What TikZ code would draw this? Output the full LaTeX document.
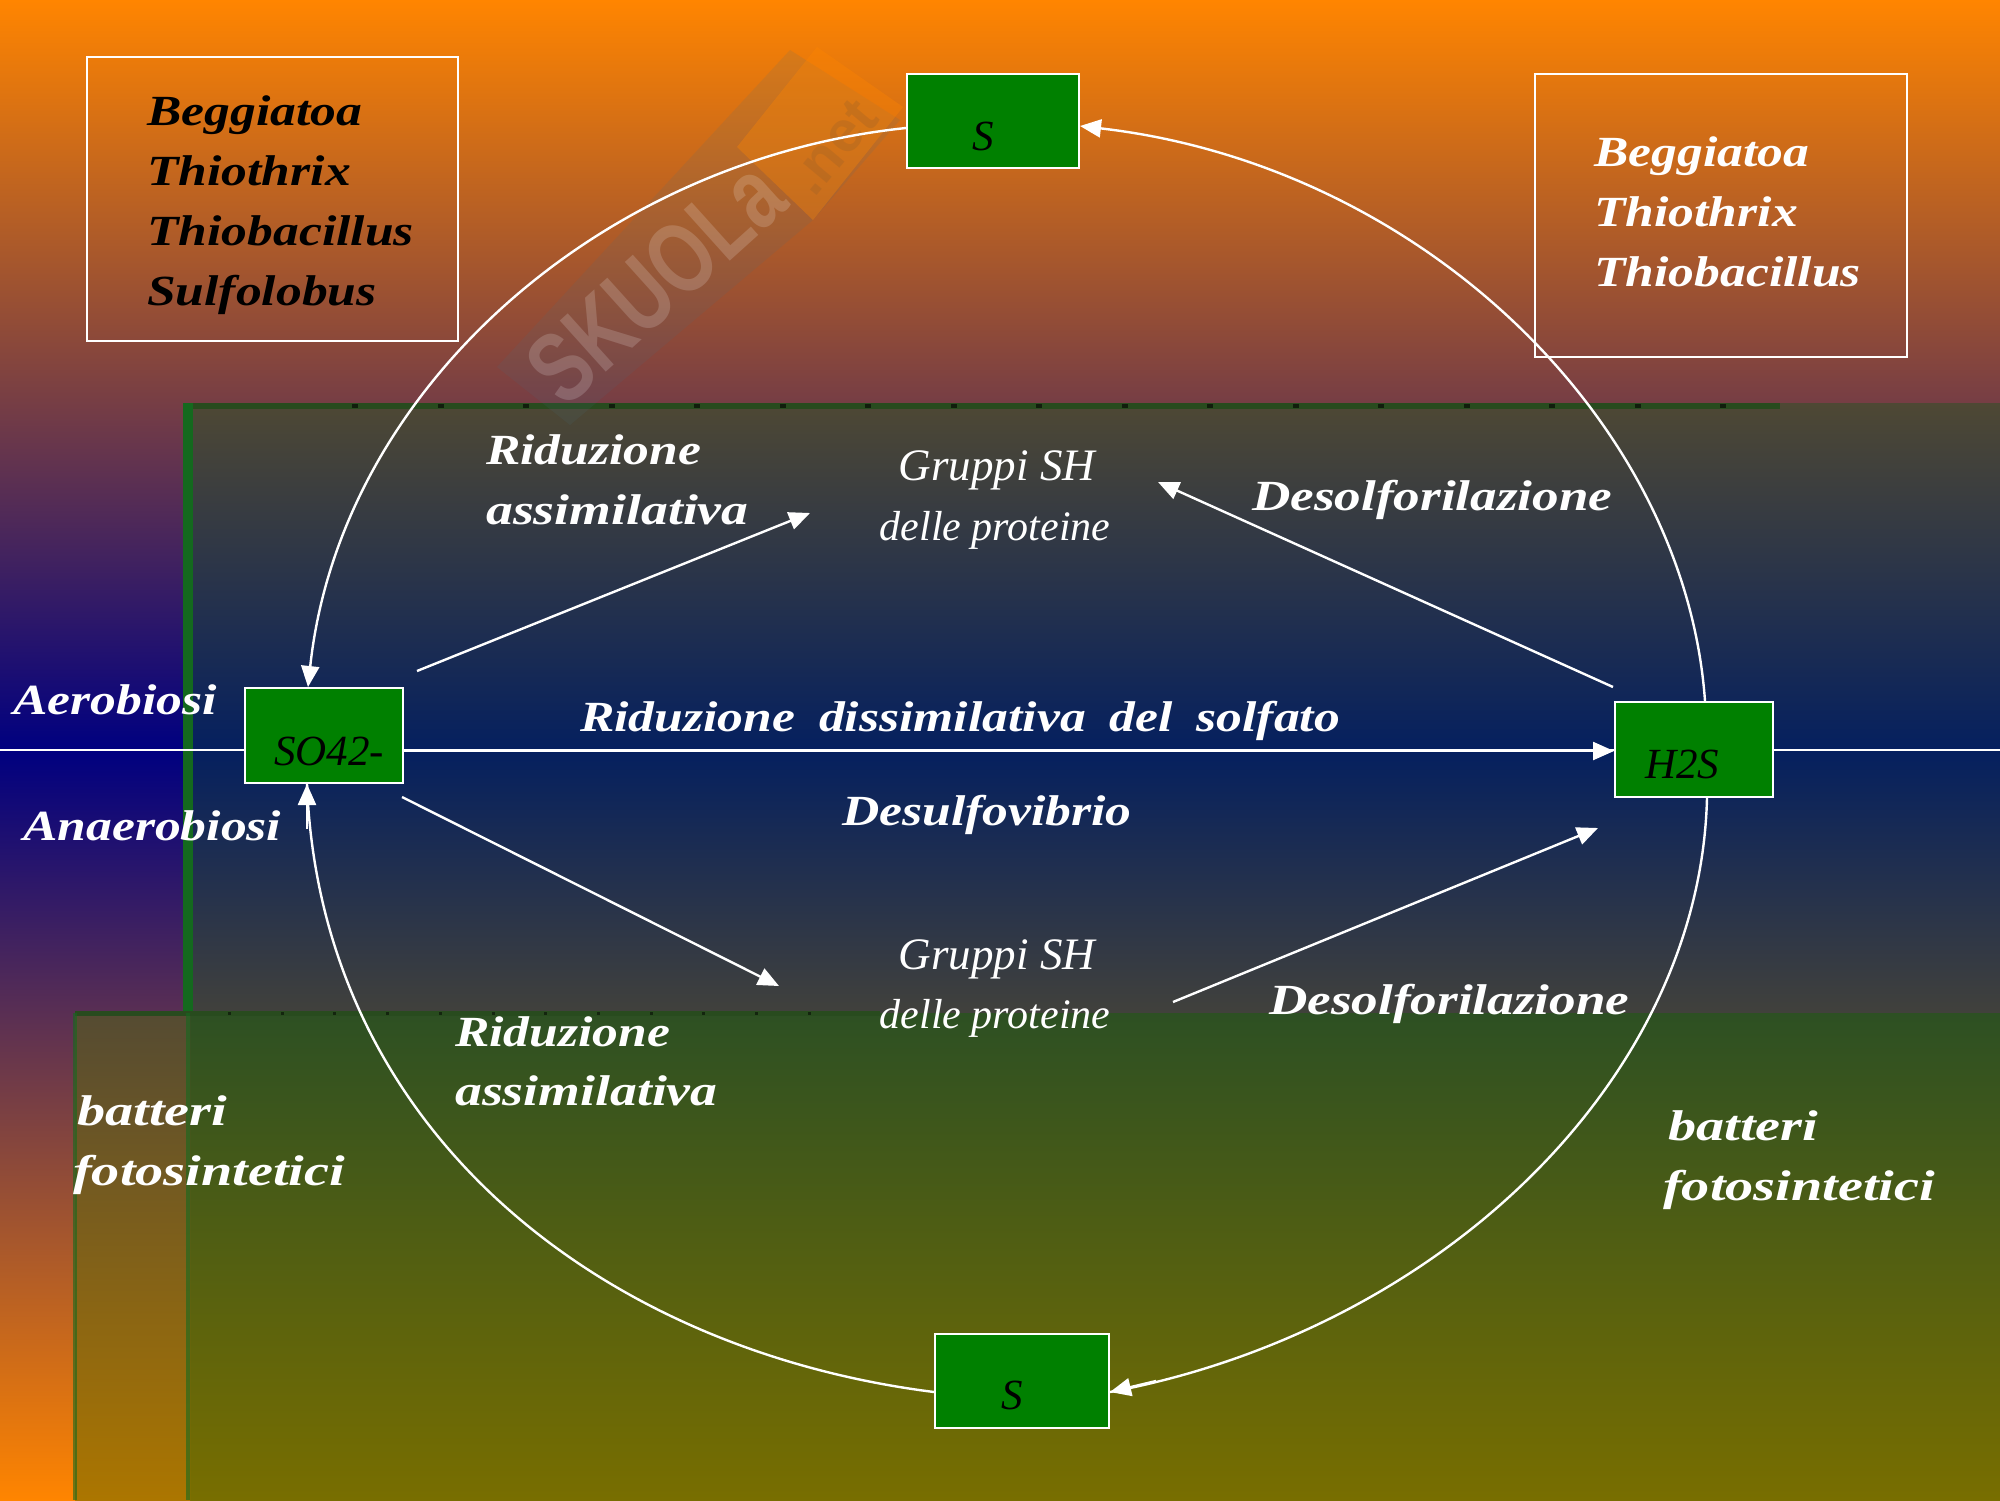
\documentclass[tikz,border=0pt]{standalone}
\usepackage{fontspec}
\usetikzlibrary{arrows.meta,positioning}
\setmainfont{Liberation Serif}
\newfontfamily\widefont[FakeStretch=1.2]{Liberation Serif}
\newfontfamily\markfont{Liberation Sans}
\definecolor{boxgreen}{RGB}{0,128,0}
\definecolor{stripgreen}{RGB}{20,105,30}
\definecolor{darkstrip}{RGB}{40,75,30}
\definecolor{topbg}{RGB}{255,133,0}
\definecolor{midbg}{RGB}{0,0,128}
\definecolor{markblue}{RGB}{70,110,130}
\tikzset{
  greenbox/.style={draw=white,line width=2pt,fill=boxgreen,inner sep=0pt,anchor=north west},
  framebox/.style={draw=white,line width=2pt,inner sep=0pt,anchor=north west},
  flow/.style={draw=white,line width=2.4pt,-{Triangle[length=21pt,width=18pt]}},
  bigtext/.style={text=white,anchor=base west,inner sep=0pt,font=\fontsize{43}{60}\widefont\bfseries\itshape},
  plaintext/.style={text=white,anchor=base,inner sep=0pt,font=\fontsize{45}{60}\selectfont\itshape},
  smalltext/.style={plaintext,font=\fontsize{42}{60}\selectfont\itshape},
  boxtext/.style={text=black,anchor=base west,inner sep=0pt,font=\fontsize{43}{60}\selectfont\itshape}
}
\begin{document}
\begin{tikzpicture}[x=1pt,y=-1pt]
  \useasboundingbox (0,0) rectangle (2000,1500);

  % background bands
  \shade[top color=topbg,bottom color=midbg] (0,0) rectangle (2000,750);
  \shade[top color=midbg,bottom color=topbg] (0,750) rectangle (2000,1500);

  % middle and lower panels
  \definecolor{pa}{RGB}{78,72,52}\definecolor{pb}{RGB}{5,32,95}\definecolor{pc}{RGB}{65,65,60}
  \shade[top color=pa,bottom color=pb] (190,403) rectangle (2000,750);
  \shade[top color=pb,bottom color=pc] (190,750) rectangle (2000,1013);
  \definecolor{qa}{RGB}{45,80,35}\definecolor{qb}{RGB}{120,110,0}
  \shade[top color=qa,bottom color=qb] (190,1013) rectangle (2000,1500);
  \definecolor{ra}{RGB}{85,75,50}\definecolor{rb}{RGB}{172,118,0}
  \shade[top color=ra,bottom color=rb] (75,1013) rectangle (190,1500);

  \fill[stripgreen] (183,403) rectangle (193,1013);
  \fill[darkstrip] (193,403) rectangle (1780,409);
  \fill[darkstrip] (75,1011) rectangle (880,1016);
  \fill[stripgreen,opacity=.6] (73,1013) rectangle (77,1500);
  \fill[stripgreen,opacity=.6] (186,1013) rectangle (190,1500);
  \foreach \i in {0,...,16} {
    \fill[black,opacity=.6] (352+\i*85.5,404) rectangle (358+\i*85.5,408);
  }
  \foreach \i in {0,...,11} {
    \fill[black,opacity=.5] (228+\i*52.7,1012) rectangle (231+\i*52.7,1015);
  }

  % watermark
  \fill[markblue,opacity=.13] (497,367) -- (790,50) -- (900,120) -- (813,220) -- (570,425) -- cycle;
  \fill[topbg,opacity=.35] (817,47) -- (903,107) -- (813,220) -- (737,147) -- cycle;
  \node[opacity=.17,text=white,rotate=42,xscale=.75,font=\fontsize{100}{100}\markfont\bfseries] (mark) at (655,282) {SKUOLa};
  \node[opacity=.22,text=black!30!brown,rotate=50,font=\fontsize{58}{58}\markfont\bfseries] (marknet) at (833,147) {.net};

  % frames
  \node[framebox,minimum width=371pt,minimum height=284pt] (leftframe) at (86,56) {};
  \node[framebox,minimum width=372pt,minimum height=283pt] (rightframe) at (1534,73) {};

  % boxes
  \draw[white,line width=2pt] (0,750) -- (2000,750);
  \node[greenbox,minimum width=172pt,minimum height=94pt] (stop) at (906,73) {};
  \node[greenbox,minimum width=158pt,minimum height=95pt] (sofour) at (244,687) {};
  \node[greenbox,minimum width=158pt,minimum height=95pt] (hsulf) at (1614,701) {};
  \node[greenbox,minimum width=174pt,minimum height=94pt] (sbottom) at (934,1333) {};

  \node[boxtext] (stoplab) at (972,150) {S};
  \node[boxtext] (sofourlab) at (274,765) {SO42-};
  \node[boxtext] (hsulflab) at (1645,778) {H2S};
  \node[boxtext] (sbottomlab) at (1001,1409) {S};

  % arcs of the cycle
  \draw[flow] ([xshift=91]hsulf.north west) .. controls (1685,420) and (1420,165) .. ([yshift=-5]stop.east);
  \draw[flow] ([yshift=-7]stop.west) .. controls (600,160) and (340,390) .. ([xshift=64]sofour.north west);
  \draw[white,line width=2.4pt] ([xshift=93]hsulf.south west) .. controls (1700,1080) and (1440,1330) .. ([yshift=-11]sbottom.east);
  \draw[white,line width=2.4pt] ([yshift=-11]sbottom.west) .. controls (600,1350) and (320,1130) .. ([xshift=63]sofour.south west);
  \coordinate (stubb) at (1156,1381);
  \draw[flow] (stubb) -- ([yshift=-11]sbottom.east);
  \coordinate (stubl) at (307,829);
  \draw[flow] (stubl) -- ([xshift=63]sofour.south west);

  % straight arrows
  \draw[flow] ([yshift=-15.5]sofour.east) -- ([yshift=-1.5]hsulf.west);
  \coordinate (aone) at (417,671);
  \coordinate (atwo) at (810,513);
  \draw[flow] (aone) -- (atwo);
  \coordinate (bone) at (1613,687);
  \coordinate (btwo) at (1158,482);
  \draw[flow] (bone) -- (btwo);
  \coordinate (cone) at (402,797);
  \coordinate (ctwo) at (779,986);
  \draw[flow] (cone) -- (ctwo);
  \coordinate (done) at (1173,1002);
  \coordinate (dtwo) at (1598,828);
  \draw[flow] (done) -- (dtwo);

  % labels
  \node[bigtext,text=black] (lefttxa) at (147,125) {Beggiatoa};
  \node[bigtext,text=black] (lefttxb) at (147,185) {Thiothrix};
  \node[bigtext,text=black] (lefttxc) at (147,245) {Thiobacillus};
  \node[bigtext,text=black] (lefttxd) at (147,305) {Sulfolobus};
  \node[bigtext] (righttxa) at (1594,166) {Beggiatoa};
  \node[bigtext] (righttxb) at (1594,226) {Thiothrix};
  \node[bigtext] (righttxc) at (1594,286) {Thiobacillus};
  \node[bigtext] (ridua) at (486,464) {Riduzione};
  \node[bigtext,xscale=1.04] (ridub) at (486,524) {assimilativa};
  \node[plaintext] (gruppia) at (997,480) {Gruppi SH};
  \node[smalltext] (gruppib) at (995,540) {delle proteine};
  \node[bigtext,xscale=1.03] (desolfa) at (1252,510) {Desolforilazione};
  \node[bigtext] (aero) at (13,714) {Aerobiosi};
  \node[bigtext] (anaero) at (23,840) {Anaerobiosi};
  \node[bigtext] (dissim) at (580,731) {Riduzione\hspace{11pt} dissimilativa\hspace{11pt} del\hspace{11pt} solfato};
  \node[bigtext] (desulfo) at (842,825) {Desulfovibrio};
  \node[plaintext] (gruppic) at (997,969) {Gruppi SH};
  \node[smalltext] (gruppid) at (995,1028) {delle proteine};
  \node[bigtext,xscale=1.03] (desolfb) at (1269,1014) {Desolforilazione};
  \node[bigtext] (riduc) at (455,1046) {Riduzione};
  \node[bigtext,xscale=1.04] (ridud) at (455,1105) {assimilativa};
  \node[bigtext,xscale=1.09] (battl) at (77,1125) {batteri};
  \node[bigtext,xscale=1.09] (fotol) at (73,1185) {fotosintetici};
  \node[bigtext,xscale=1.09] (battr) at (1668,1140) {batteri};
  \node[bigtext,xscale=1.09] (fotor) at (1663,1200) {fotosintetici};
\end{tikzpicture}
\end{document}
